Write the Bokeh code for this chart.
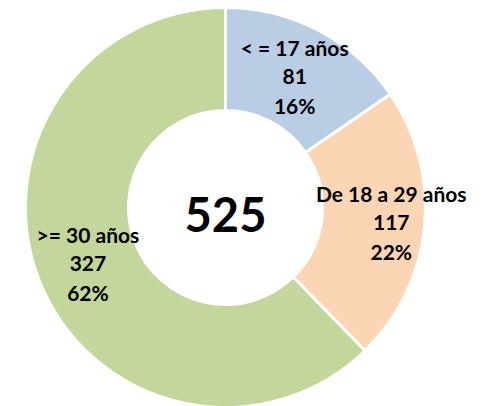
import math
from bokeh.plotting import figure
from bokeh.models import Range1d
from bokeh.core.properties import value
from bokeh.embed import file_html
from bokeh.resources import INLINE

# ---- data ----
categories = ["< = 17 años", "De 18 a 29 años", ">= 30 años"]
counts = [81, 117, 327]
pct_labels = ["16%", "22%", "62%"]
colors = ["#B9CDE5", "#FCD5B5", "#C3D69B"]
total = sum(counts)

# ---- layout (page pixels) ----
W, H = 487, 406
OFF = 0
CX, CY = 225, 207
R_OUT, R_IN = 200, 97
label_dx = [0, 18, 0]
LINE = 29
FONT = "Lato"

p = figure(width=W, height=H, output_backend="svg", toolbar_location=None,
           x_range=Range1d(OFF, OFF + W), y_range=Range1d(-(OFF + H), -OFF),
           min_border=0, match_aspect=False)
p.axis.visible = False
p.grid.visible = False
p.outline_line_color = None
p.background_fill_color = "white"
p.border_fill_color = "white"

cum = 0
for i, c in enumerate(counts):
    a0 = cum / total
    a1 = (cum + c) / total
    cum += c
    start = math.radians(90 - a1 * 360)
    end = math.radians(90 - a0 * 360)
    p.annular_wedge(x=CX, y=-CY, inner_radius=R_IN, outer_radius=R_OUT,
                    start_angle=start, end_angle=end, direction="anticlock",
                    fill_color=colors[i], line_color="white", line_width=3)
    mid = math.radians(90 - (a0 + a1) / 2 * 360)
    rm = (R_IN + R_OUT) / 2
    lx = CX + rm * math.cos(mid) + label_dx[i]
    ly = CY - rm * math.sin(mid)
    lines = [categories[i], str(c), pct_labels[i]]
    for k, t in enumerate(lines):
        p.text(x=[lx], y=[-(ly + (k - 1) * LINE)], text=[t],
               text_font=value(FONT), text_font_style="bold",
               text_font_size="21px", text_color="black",
               text_align="center", text_baseline="middle")

p.text(x=[CX], y=[-214], text=[str(total)], text_font=value(FONT),
       text_font_style="bold", text_font_size="47px", text_color="black",
       text_align="center", text_baseline="middle")

open("out.html", "w").write(file_html(p, INLINE))
